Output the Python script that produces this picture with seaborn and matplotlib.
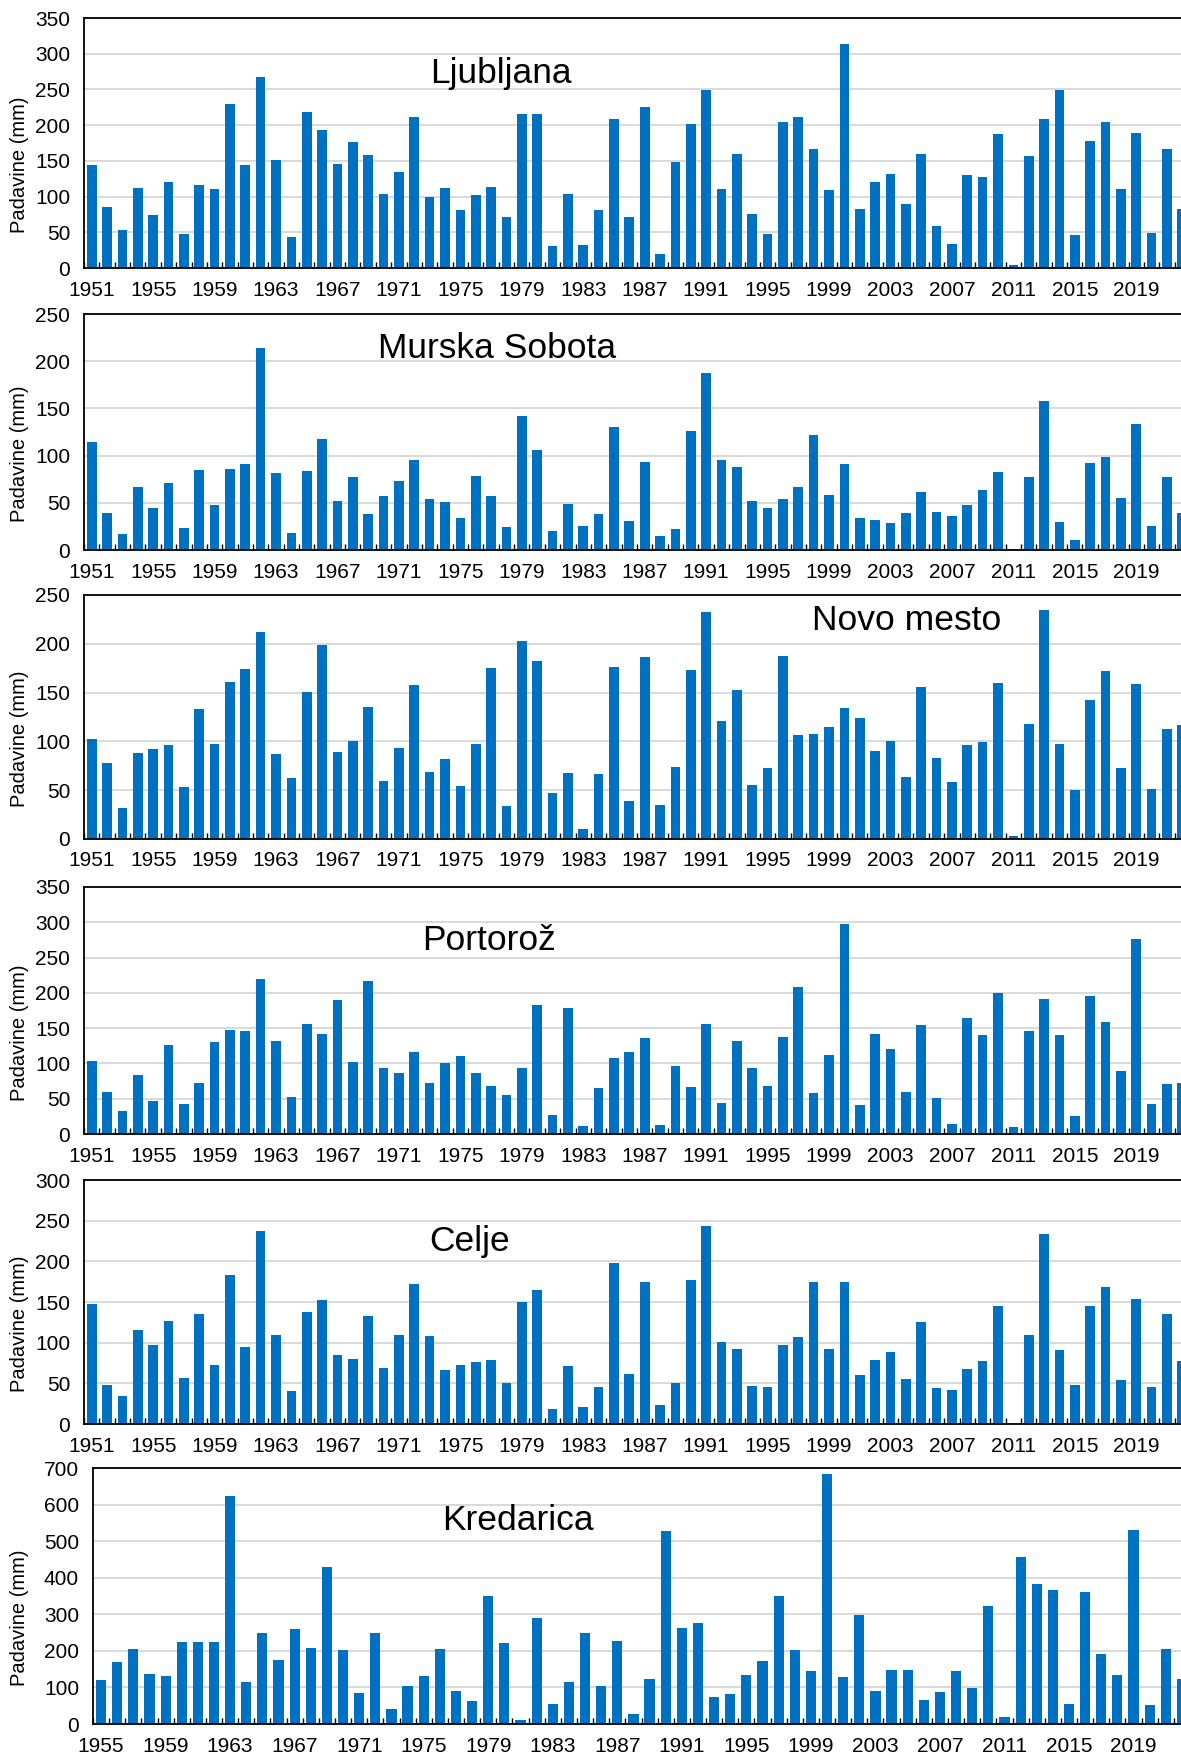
import numpy as np
import pandas as pd
import seaborn as sns
import matplotlib.pyplot as plt

# data (mm)
years = list(range(1951, 2023))
kredarica_years = list(range(1955, 2023))

ljubljana = [144, 85, 53, 112, 74, 120, 48, 116, 111, 230,
             144, 267, 151, 43, 219, 193, 146, 176, 158, 104,
             134, 212, 100, 112, 81, 102, 113, 71, 216, 216,
             31, 103, 32, 81, 209, 71, 226, 20, 149, 201,
             249, 110, 159, 75, 48, 204, 212, 167, 109, 313,
             83, 120, 131, 89, 160, 59, 34, 130, 128, 187,
             4, 157, 208, 249, 46, 178, 204, 110, 189, 49,
             166, 83]
murska_sobota = [114, 39, 17, 67, 44, 71, 23, 85, 48, 86,
                 91, 214, 82, 18, 84, 118, 52, 77, 38, 57,
                 73, 95, 54, 51, 34, 78, 57, 24, 142, 106,
                 20, 49, 25, 38, 130, 31, 93, 15, 22, 126,
                 188, 95, 88, 52, 44, 54, 67, 122, 58, 91,
                 34, 32, 29, 39, 61, 40, 36, 48, 64, 83,
                 1, 77, 158, 30, 11, 92, 98, 55, 134, 25,
                 77, 39]
novo_mesto = [102, 78, 32, 88, 92, 96, 53, 133, 97, 161,
              174, 212, 87, 62, 151, 199, 89, 100, 135, 59,
              93, 158, 69, 82, 54, 97, 175, 34, 203, 182,
              47, 68, 10, 67, 176, 39, 186, 35, 74, 173,
              233, 121, 153, 55, 73, 187, 107, 108, 115, 134,
              124, 90, 100, 64, 156, 83, 58, 96, 99, 160,
              3, 118, 235, 97, 50, 142, 172, 73, 159, 51,
              113, 117]
portoroz = [104, 59, 33, 83, 47, 126, 43, 72, 131, 147,
            146, 220, 132, 52, 156, 141, 190, 102, 217, 93,
            87, 116, 72, 101, 110, 87, 68, 55, 93, 183,
            27, 178, 12, 65, 107, 116, 136, 13, 96, 66,
            156, 44, 132, 93, 68, 138, 209, 58, 112, 297,
            41, 142, 120, 59, 154, 51, 14, 164, 140, 200,
            10, 146, 191, 140, 25, 195, 159, 89, 277, 43,
            71, 72]
celje = [147, 48, 34, 116, 97, 127, 57, 135, 72, 183,
         95, 237, 109, 41, 138, 153, 85, 80, 133, 69,
         110, 172, 108, 67, 72, 76, 79, 51, 150, 165,
         19, 71, 21, 46, 198, 62, 174, 23, 51, 177,
         243, 101, 92, 47, 45, 97, 107, 174, 92, 174,
         60, 79, 88, 55, 126, 44, 42, 68, 78, 145,
         0, 109, 233, 91, 48, 145, 168, 54, 154, 45,
         135, 78]
kredarica = [120, 169, 205, 138, 132, 225, 223, 225, 624, 115,
             249, 174, 261, 208, 429, 202, 84, 250, 40, 105,
             132, 204, 91, 64, 351, 222, 11, 291, 54, 116,
             250, 103, 227, 27, 122, 527, 263, 275, 73, 83,
             133, 173, 349, 203, 146, 683, 128, 297, 90, 147,
             148, 66, 88, 145, 98, 323, 18, 456, 383, 366,
             55, 362, 192, 134, 530, 51, 204, 122]

stations = ['Ljubljana', 'Murska Sobota', 'Novo mesto', 'Portorož', 'Celje', 'Kredarica']
station_values = [ljubljana, murska_sobota, novo_mesto, portoroz, celje, kredarica]
station_years = [years, years, years, years, years, kredarica_years]
y_max = [350, 250, 250, 350, 300, 700]
y_step = [50, 50, 50, 50, 50, 100]

# layout in pixels of the 1181x1753 picture
W, H = 1181, 1753
RIGHT = 1190  # plot area runs off the right edge, as in the original
panel_box = [(84, 18, 268), (84, 314, 550), (84, 595, 839),
             (84, 887, 1134), (84, 1180, 1424), (93, 1468, 1724)]
title_pos = [(501, 74), (497, 348), (907, 621), (489, 941), (470, 1242), (518, 1521)]
YLABEL_SHIFT = 22  # y label sits a bit below the panel middle

BLUE = '#0070C0'
TICK_SIZE = 15

sns.set_theme(style='white')
plt.rcParams['font.family'] = ['Liberation Sans', 'DejaVu Sans']

fig = plt.figure(figsize=(W / 100, H / 100), dpi=100)

for i, name in enumerate(stations):
    left, top, bottom = panel_box[i]
    ax = fig.add_axes([left / W, 1 - bottom / H, (RIGHT - left) / W, (bottom - top) / H])
    yrs = station_years[i]
    df = pd.DataFrame({'year': yrs, 'mm': station_values[i]})
    sns.barplot(data=df, x='year', y='mm', color=BLUE, saturation=1, width=0.63,
                errorbar=None, linewidth=0, ax=ax)
    n = len(yrs)
    ax.set_xlim(-0.5, n - 0.5)
    ax.set_ylim(0, y_max[i])
    ax.set_yticks(np.arange(0, y_max[i] + 1, y_step[i]))
    ax.yaxis.grid(True, color='#D9D9D9', lw=1.4)
    ax.xaxis.grid(False)
    ax.set_axisbelow(True)

    ax.set_xticks(range(0, n, 4))
    ax.set_xticklabels([str(y) for y in yrs[::4]])
    ax.set_xticks(np.arange(-0.5, n, 1), minor=True)
    ax.tick_params(axis='x', which='minor', direction='in', length=4, width=1,
                   color='black', bottom=True)
    ax.tick_params(axis='x', which='major', length=0, pad=9, labelsize=TICK_SIZE, labelcolor='black')
    ax.tick_params(axis='y', length=0, pad=10, labelsize=TICK_SIZE, labelcolor='black')

    ax.set_xlabel('')
    ax.set_ylabel('Padavine (mm)', fontsize=14.5, color='black', va='center')
    label_y = (top + bottom) / 2 + YLABEL_SHIFT
    ax.yaxis.set_label_coords(20 / W, 1 - label_y / H, transform=fig.transFigure)

    for side in ['top', 'left', 'bottom']:
        ax.spines[side].set_color('black')
        ax.spines[side].set_linewidth(1.3)
    ax.spines['right'].set_visible(False)

    tx, ty = title_pos[i]
    fig.text(tx / W, 1 - ty / H, name, ha='center', va='center', fontsize=25.5, color='black')

fig.savefig('out.png', dpi=100)
